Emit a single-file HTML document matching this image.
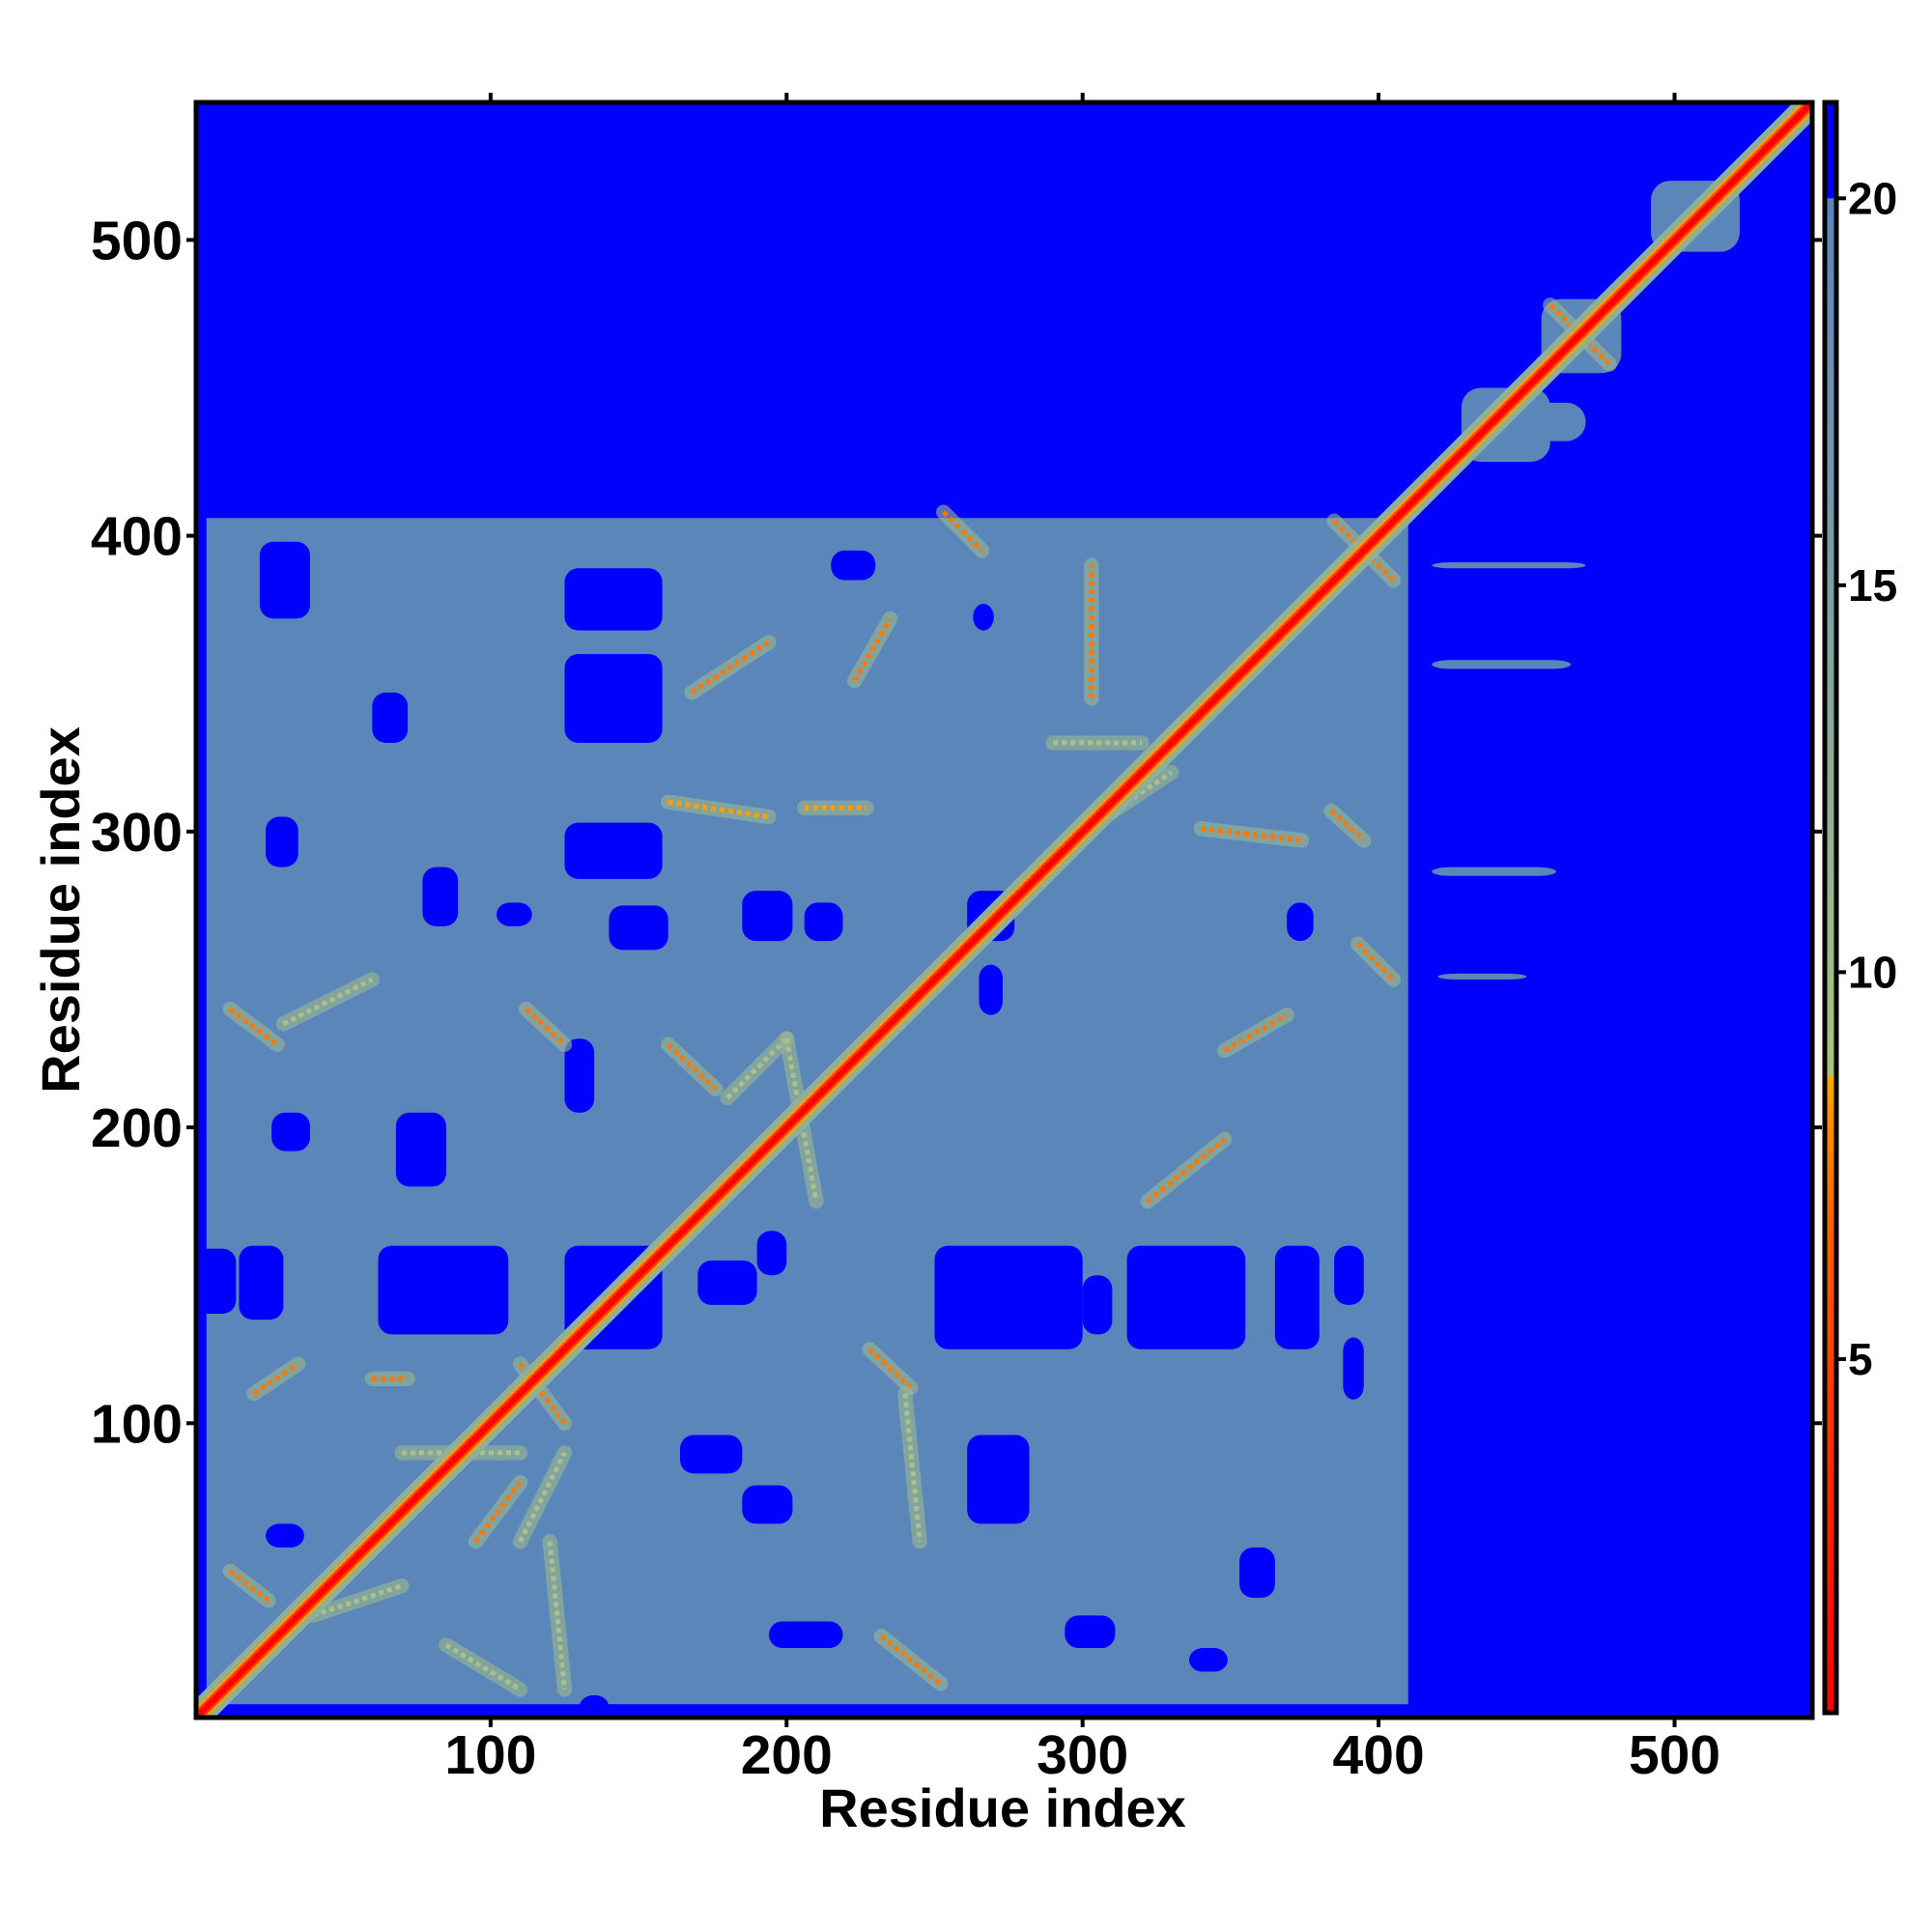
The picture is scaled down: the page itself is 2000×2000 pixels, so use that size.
<!DOCTYPE html>
<html>
<head>
<meta charset="utf-8">
<style>
  html,body{margin:0;padding:0;background:#fff;}
  svg{display:block;font-family:"Liberation Sans",Arial,sans-serif;font-weight:bold;}
</style>
</head>
<body>
<svg id="chart" width="2000" height="2000" viewBox="0 0 2000 2000" xmlns="http://www.w3.org/2000/svg">
  <defs>
    <clipPath id="plotclip"><rect x="203" y="106" width="1673" height="1672"/></clipPath>
    <linearGradient id="cbgrad" x1="0" y1="1" x2="0" y2="0">
      <stop offset="0" stop-color="#ff0000"/>
      <stop offset="0.17" stop-color="#ff3000"/>
      <stop offset="0.30" stop-color="#ff6000"/>
      <stop offset="0.37" stop-color="#ff9000"/>
      <stop offset="0.395" stop-color="#ffa800"/>
      <stop offset="0.396" stop-color="#a8c47c"/>
      <stop offset="0.6" stop-color="#8aab98"/>
      <stop offset="0.8" stop-color="#6e93b0"/>
      <stop offset="0.94" stop-color="#5b84bc"/>
      <stop offset="0.941" stop-color="#0000ff"/>
      <stop offset="1" stop-color="#0000ff"/>
    </linearGradient>
  </defs>
  <g id="plot" clip-path="url(#plotclip)"></g>
  <rect x="203" y="106" width="1673" height="1672" fill="none" stroke="#000" stroke-width="5"/>
  <g id="axes"></g>
  <text x="1038" y="1891" font-size="56" text-anchor="middle">Residue index</text>
  <text x="0" y="0" font-size="56" text-anchor="middle" transform="translate(82,942) rotate(-90)">Residue index</text>
  <g id="colorbar">
    <rect x="1889" y="106" width="12" height="1667" fill="url(#cbgrad)" stroke="#000" stroke-width="5"/>
  </g>
</svg>
<script>
// ---- data ----
const nResidues = 546;
const axisTicks = [100, 200, 300, 400, 500];
const tickLabels = ["100", "200", "300", "400", "500"];
const cbTicks = [5, 10, 15, 20];
const cbTickLabels = ["5", "10", "15", "20"];
// steel-blue (distance ~16-20) regions: [x0, x1, y0, y1] in residues
const regionX0 = [4, 428, 455, 440, 492, 418, 418, 418, 420];
const regionX1 = [410, 458, 482, 470, 522, 470, 465, 460, 450];
const regionY0 = [5, 425, 455, 432, 496, 389, 355, 285, 250];
const regionY1 = [406, 450, 480, 445, 520, 391, 358, 288, 252];
const regionValue = [17, 17, 17, 17, 17, 18, 18, 18, 18];
// blue holes (distance > 20): [x0, x1, y0, y1]
const holeX0 = [15, 62, 125, 170, 250, 315, 365, 385, 0, 125, 125, 125, 22, 24, 24, 60, 77, 102, 185, 206, 261, 261, 369, 353, 265, 125, 388, 26, 68, 185, 194, 294, 336, 263, 164, 410, 130, 235, 140, 215, 300, 190];
const holeX1 = [30, 106, 158, 190, 300, 355, 380, 395, 14, 158, 158, 158, 39, 35, 37, 72, 89, 114, 202, 219, 277, 282, 378, 365, 273, 135, 395, 39, 85, 202, 219, 311, 349, 270, 185, 420, 140, 255, 160, 230, 310, 200];
const holeY0 = [135, 130, 125, 140, 125, 125, 125, 140, 137, 284, 330, 368, 372, 288, 58, 330, 268, 268, 263, 263, 263, 66, 263, 41, 238, 205, 108, 192, 180, 66, 24, 24, 16, 368, 83, 0, 0, 0, 260, 385, 130, 150];
const holeY1 = [160, 160, 160, 155, 160, 160, 160, 160, 159, 303, 360, 389, 398, 305, 66, 347, 288, 276, 280, 276, 280, 96, 276, 58, 255, 230, 129, 205, 205, 79, 33, 35, 24, 377, 96, 5, 8, 4, 275, 395, 150, 165];
// close contacts: segments [x0,y0] -> [x1,y1] with distance value
const contactX0 = [228, 232, 12, 112, 253, 385, 385, 458, 458, 393, 384, 30, 303, 168, 223, 160, 206, 340, 322, 348, 160, 12, 20, 60, 95, 110, 40, 70, 85, 110, 180, 200, 290, 300, 120, 240];
const contactY0 = [125, 28, 240, 240, 408, 405, 385, 478, 458, 262, 307, 235, 345, 347, 351, 310, 308, 301, 175, 226, 228, 50, 110, 115, 60, 120, 35, 90, 25, 60, 210, 230, 330, 300, 60, 110];
const contactX1 = [242, 252, 28, 125, 266, 405, 405, 478, 478, 405, 395, 60, 303, 194, 235, 194, 227, 374, 348, 369, 176, 25, 35, 72, 110, 125, 70, 110, 110, 125, 200, 210, 320, 330, 125, 245];
const contactY1 = [112, 12, 228, 228, 395, 385, 405, 458, 478, 250, 297, 250, 390, 364, 372, 305, 308, 297, 196, 238, 213, 40, 120, 115, 80, 100, 45, 90, 10, 90, 230, 175, 330, 320, 10, 60];
const contactValue = [6, 6, 6, 6, 6, 6, 6, 6, 6, 6, 6, 9, 7, 7, 7, 8, 8, 7, 7, 6, 7, 6, 7, 6, 7, 6, 9, 9, 9, 9, 9, 9, 9, 9, 9, 9];
// diagonal (i, i) band
const diagStart = [1];
const diagEnd = [546];

// ---- scales ----
const L = 203, R = 1876, T = 106, B = 1778;
const xs = v => L + (v - 0.5) * (R - L) / nResidues;
const ys = v => B - (v - 0.5) * (B - T) / nResidues;
const CB_T = 106, CB_B = 1773, CB_MIN = 0.43, CB_MAX = 21.24;
const cbs = v => CB_B - (v - CB_MIN) * (CB_B - CB_T) / (CB_MAX - CB_MIN);
function color(v) {
  if (v > 20) return "#0000ff";
  if (v >= 15) return "#5b86ba";
  if (v > 8.5) { const t = (v - 8.5) / 6.5; const r = Math.round(176 - t * 85), g = Math.round(200 - t * 66), b = Math.round(130 + t * 56); return `rgb(${r},${g},${b})`; }
  if (v > 7) return "#ffa000";
  if (v > 5.5) return "#ff7800";
  if (v > 3) return "#ff4000";
  return "#ff0000";
}
const NS = "http://www.w3.org/2000/svg";
const plot = document.getElementById("plot");
const axes = document.getElementById("axes");
const cb = document.getElementById("colorbar");

// background
const bg = document.createElementNS(NS, "rect");


bg.setAttribute("x", xs(0.5)); bg.setAttribute("y", ys(nResidues + 0.5));
bg.setAttribute("width", xs(nResidues + 0.5) - xs(0.5)); bg.setAttribute("height", ys(0.5) - ys(nResidues + 0.5));
bg.setAttribute("fill", color(21));
plot.appendChild(bg);

for (let i = 0; i < regionX0.length; i++) {
  const r = document.createElementNS(NS, "rect");
  
  
  r.setAttribute("x", xs(regionX0[i])); r.setAttribute("y", ys(regionY1[i]));
  r.setAttribute("width", xs(regionX1[i]) - xs(regionX0[i])); r.setAttribute("height", ys(regionY0[i]) - ys(regionY1[i]));
  r.setAttribute("rx", i === 0 ? 0 : 20);
  r.setAttribute("fill", color(regionValue[i]));
  plot.appendChild(r);
}
for (let i = 0; i < holeX0.length; i++) {
  const r = document.createElementNS(NS, "rect");
  
  
  r.setAttribute("x", xs(holeX0[i])); r.setAttribute("y", ys(holeY1[i]));
  r.setAttribute("width", xs(holeX1[i]) - xs(holeX0[i])); r.setAttribute("height", ys(holeY0[i]) - ys(holeY1[i]));
  r.setAttribute("rx", 14);
  r.setAttribute("fill", color(21));
  plot.appendChild(r);
}
const unit = (R - L) / nResidues;
for (let i = 0; i < contactX0.length; i++) {
  const halo = document.createElementNS(NS, "line");
  
  
  halo.setAttribute("x1", xs(contactX0[i])); halo.setAttribute("y1", ys(contactY0[i]));
  halo.setAttribute("x2", xs(contactX1[i])); halo.setAttribute("y2", ys(contactY1[i]));
  halo.setAttribute("stroke", color(10)); halo.setAttribute("stroke-width", unit * 5);
  halo.setAttribute("stroke-linecap", "round"); halo.setAttribute("opacity", "0.6");
  plot.appendChild(halo);
  const l = document.createElementNS(NS, "line");
  
  
  l.setAttribute("x1", xs(contactX0[i])); l.setAttribute("y1", ys(contactY0[i]));
  l.setAttribute("x2", xs(contactX1[i])); l.setAttribute("y2", ys(contactY1[i]));
  l.setAttribute("stroke", color(contactValue[i])); l.setAttribute("stroke-width", unit * 1.6);
  l.setAttribute("stroke-dasharray", "5 4");
  plot.appendChild(l);
}
// diagonal
const diagLayers = [[9, 11], [5, 7.5], [3.5, 5], [2, 2]];
diagLayers.forEach(([w, v]) => {
  const d = document.createElementNS(NS, "line");
  
  
  d.setAttribute("x1", xs(diagStart[0])); d.setAttribute("y1", ys(diagStart[0]));
  d.setAttribute("x2", xs(diagEnd[0])); d.setAttribute("y2", ys(diagEnd[0]));
  d.setAttribute("stroke", color(v)); d.setAttribute("stroke-width", w * unit);
  plot.appendChild(d);
});

// axes ticks + labels
for (let i = 0; i < axisTicks.length; i++) {
  const v = axisTicks[i];
  const tl = document.createElementNS(NS, "line");
  
  
  tl.setAttribute("x1", L - 10); tl.setAttribute("x2", L); tl.setAttribute("y1", ys(v)); tl.setAttribute("y2", ys(v));
  tl.setAttribute("stroke", "#000"); tl.setAttribute("stroke-width", 4);
  axes.appendChild(tl);
  const tr = document.createElementNS(NS, "line");
  
  
  tr.setAttribute("x1", R); tr.setAttribute("x2", R + 10); tr.setAttribute("y1", ys(v)); tr.setAttribute("y2", ys(v));
  tr.setAttribute("stroke", "#000"); tr.setAttribute("stroke-width", 4);
  axes.appendChild(tr);
  const tt = document.createElementNS(NS, "line");
  
  
  tt.setAttribute("x1", xs(v)); tt.setAttribute("x2", xs(v)); tt.setAttribute("y1", T - 10); tt.setAttribute("y2", T);
  tt.setAttribute("stroke", "#000"); tt.setAttribute("stroke-width", 4);
  axes.appendChild(tt);
  const tb = document.createElementNS(NS, "line");
  
  
  tb.setAttribute("x1", xs(v)); tb.setAttribute("x2", xs(v)); tb.setAttribute("y1", B); tb.setAttribute("y2", B + 10);
  tb.setAttribute("stroke", "#000"); tb.setAttribute("stroke-width", 4);
  axes.appendChild(tb);
  const yl = document.createElementNS(NS, "text");
  
  
  yl.setAttribute("x", L - 14); yl.setAttribute("y", ys(v) + 20);
  yl.setAttribute("font-size", "57"); yl.setAttribute("text-anchor", "end");
  yl.textContent = tickLabels[i];
  axes.appendChild(yl);
  const xl = document.createElementNS(NS, "text");
  
  
  xl.setAttribute("x", xs(v)); xl.setAttribute("y", 1836);
  xl.setAttribute("font-size", "57"); xl.setAttribute("text-anchor", "middle");
  xl.textContent = tickLabels[i];
  axes.appendChild(xl);
}
for (let i = 0; i < cbTicks.length; i++) {
  const y = cbs(cbTicks[i]);
  const t = document.createElementNS(NS, "line");
  
  
  t.setAttribute("x1", 1903); t.setAttribute("x2", 1911); t.setAttribute("y1", y); t.setAttribute("y2", y);
  t.setAttribute("stroke", "#000"); t.setAttribute("stroke-width", 4);
  cb.appendChild(t);
  const tx = document.createElementNS(NS, "text");
  
  
  tx.setAttribute("x", 1913); tx.setAttribute("y", y + 16);
  tx.setAttribute("font-size", "46");
  tx.textContent = cbTickLabels[i];
  cb.appendChild(tx);
}
</script>
</body>
</html>
